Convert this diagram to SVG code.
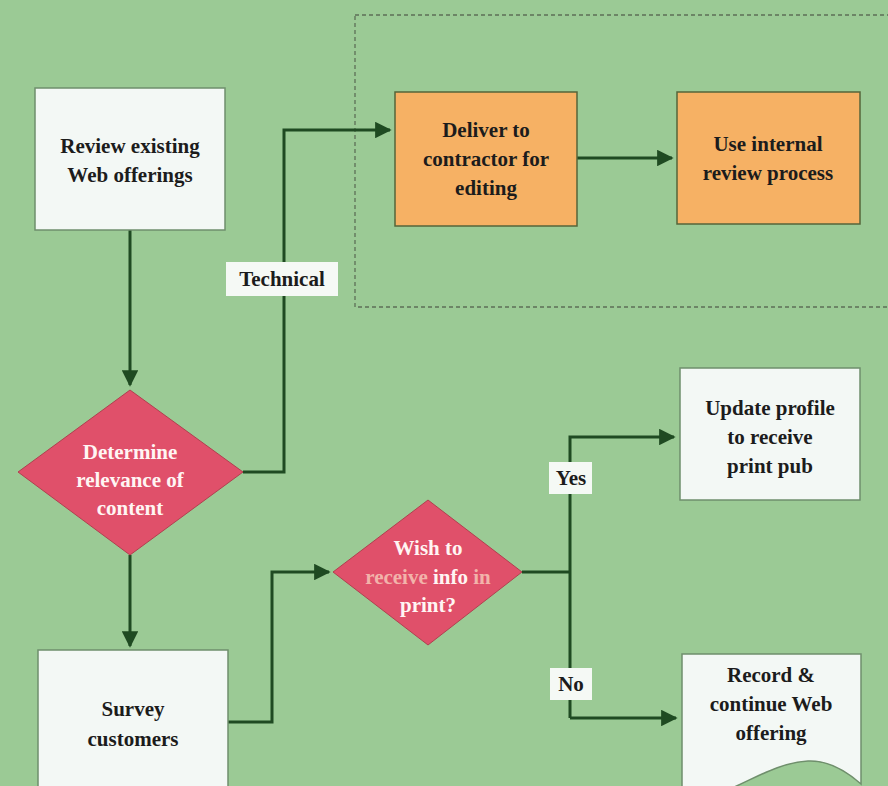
<svg xmlns="http://www.w3.org/2000/svg" width="888" height="786" viewBox="0 0 888 786">
<defs>
<marker id="ah" viewBox="0 0 10 10" refX="9" refY="5" markerWidth="5.5" markerHeight="5.5" orient="auto" markerUnits="strokeWidth">
<path d="M0,0 L10,5 L0,10 Z" fill="#1f4a22"/>
</marker>
<style>
.t{font-family:"Liberation Serif","Times New Roman",serif;font-weight:bold;font-size:21px;text-anchor:middle;fill:#1c1c1c}
.w{fill:#fff5f3}
.f{fill:#f2b3aa}
.box{fill:#f3f8f5;stroke:#6f8f6c;stroke-width:1.5}
.org{fill:#f6b164;stroke:#55653a;stroke-width:1.5}
.dia{fill:#e0506a;stroke:#b0404f;stroke-width:1}
.c{fill:none;stroke:#1f4a22;stroke-width:3}
.lbl{fill:#f5f9f5}
</style>
</defs>
<rect width="888" height="786" fill="#9bca95"/>
<rect x="355" y="15" width="540" height="292" fill="none" stroke="#5d6f57" stroke-width="1.3" stroke-dasharray="4,3"/>
<g id="connectors">
<path class="c" d="M130,230 V385" marker-end="url(#ah)"/>
<path class="c" d="M243,472 H284 V130 H390" marker-end="url(#ah)"/>
<path class="c" d="M577,158 H672" marker-end="url(#ah)"/>
<path class="c" d="M130,555 V646" marker-end="url(#ah)"/>
<path class="c" d="M228,722 H272 V572 H329" marker-end="url(#ah)"/>
<path class="c" d="M522,572 H570"/>
<path class="c" d="M570,718 V437 H674" marker-end="url(#ah)"/>
<path class="c" d="M570,718 H676" marker-end="url(#ah)"/>
<rect class="lbl" x="226" y="262" width="112" height="34"/>
<text class="t" x="282" y="286">Technical</text>
<rect class="lbl" x="549" y="462" width="43" height="32"/>
<text class="t" x="571" y="485">Yes</text>
<rect class="lbl" x="550" y="668" width="42" height="32"/>
<text class="t" x="571" y="691">No</text>
</g>
<g id="review">
<rect class="box" x="35" y="88" width="190" height="142"/>
<text class="t" x="130" y="153">Review existing</text>
<text class="t" x="130" y="182">Web offerings</text>
</g>
<g id="deliver">
<rect class="org" x="395" y="92" width="182" height="134"/>
<text class="t" x="486" y="137">Deliver to</text>
<text class="t" x="486" y="166">contractor for</text>
<text class="t" x="486" y="195">editing</text>
</g>
<g id="internal">
<rect class="org" x="677" y="92" width="183" height="132"/>
<text class="t" x="768" y="151">Use internal</text>
<text class="t" x="768" y="180">review process</text>
</g>
<g id="determine">
<polygon class="dia" points="130,390 243,472 130,555 18,472"/>
<text class="t w" x="130" y="459">Determine</text>
<text class="t w" x="130" y="487">relevance of</text>
<text class="t w" x="130" y="515">content</text>
</g>
<g id="survey">
<rect class="box" x="38" y="650" width="190" height="150"/>
<text class="t" x="133" y="716">Survey</text>
<text class="t" x="133" y="746">customers</text>
</g>
<g id="wish">
<polygon class="dia" points="428,500 522,572 428,645 333,572"/>
<text class="t w" x="428" y="555">Wish to</text>
<text class="t w" x="428" y="584"><tspan class="f">receive</tspan> info <tspan class="f">in</tspan></text>
<text class="t w" x="428" y="612">print?</text>
</g>
<g id="update">
<rect class="box" x="680" y="368" width="180" height="132"/>
<text class="t" x="770" y="415">Update profile</text>
<text class="t" x="770" y="444">to receive</text>
<text class="t" x="770" y="473">print pub</text>
</g>
<g id="record">
<path class="box" d="M682,654 H861 V784 C845,770 828,760 808,761 C775,763 750,782 722,792 C705,798 690,800 682,800 Z"/>
<text class="t" x="771" y="682">Record &amp;</text>
<text class="t" x="771" y="711">continue Web</text>
<text class="t" x="771" y="740">offering</text>
</g>
</svg>
